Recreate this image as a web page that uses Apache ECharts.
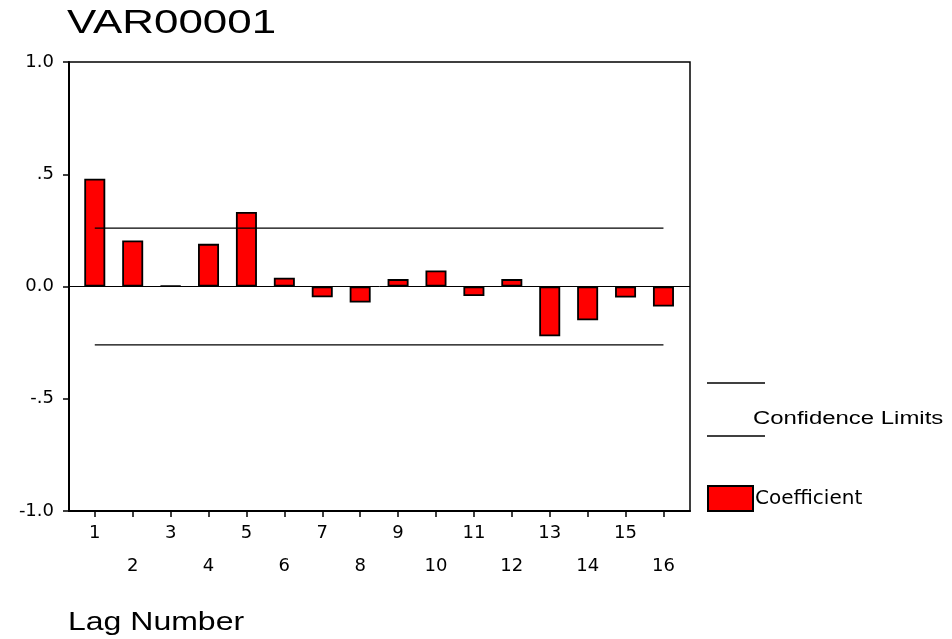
<!DOCTYPE html>
<html>
<head>
<meta charset="utf-8">
<script src="https://cdn.jsdelivr.net/npm/echarts@6/dist/echarts.min.js"></script>
<style>html,body{margin:0;padding:0;background:#fff;}#c{width:952px;height:639px;}</style>
</head>
<body>
<div id="c"></div>
<script>
// ---- data ----
const chartTitle = 'VAR00001';
const xAxisTitle = 'Lag Number';
const lags = [1, 2, 3, 4, 5, 6, 7, 8, 9, 10, 11, 12, 13, 14, 15, 16];
const coefficient = [0.48, 0.205, 0.003, 0.19, 0.332, 0.039, -0.048, -0.071, 0.033, 0.071, -0.042, 0.033, -0.222, -0.150, -0.049, -0.089];
const confUpper = 0.26;
const confLower = -0.26;
const yTickValues = [-1, -0.5, 0, 0.5, 1];
const yTickLabels = ['-1.0', '-.5', '0.0', '.5', '1.0'];

const chart = echarts.init(document.getElementById('c'), null, {renderer: 'canvas'});
const firstLag = lags[0], lastLag = lags[lags.length - 1];
const labelFont = '"DejaVu Sans", sans-serif';

const option = {
  animation: false,
  backgroundColor: '#fff',
  grid: {left: 69, right: 262, top: 62, bottom: 128, show: true, borderColor: '#000', borderWidth: 1.5, backgroundColor: 'transparent'},
  xAxis: {
    type: 'value', min: 0.32, max: 16.7,
    axisLine: {show: true, onZero: false, lineStyle: {color: '#000', width: 2}},
    axisTick: {show: true, customValues: lags, length: 6, lineStyle: {color: '#000', width: 1.5}},
    axisLabel: {
      customValues: lags, margin: 6, color: '#000', fontFamily: labelFont, fontSize: 18, lineHeight: 33,
      formatter: v => (Math.round(v) % 2 === 0 ? '\n' : '') + Math.round(v)
    },
    splitLine: {show: false}
  },
  yAxis: {
    type: 'value', min: -1, max: 1, interval: 0.5,
    axisLine: {show: true, onZero: false, lineStyle: {color: '#000', width: 2}},
    axisTick: {show: true, length: 6, lineStyle: {color: '#000', width: 1.5}},
    axisLabel: {
      margin: 15, color: '#000', fontFamily: labelFont, fontSize: 18, padding: [6, 0, 0, 0],
      formatter: v => { const i = yTickValues.findIndex(t => Math.abs(t - v) < 1e-9); return i >= 0 ? yTickLabels[i] : ''; }
    },
    splitLine: {show: false}
  },
  legend: {
    data: ['Coefficient'], left: 707, top: 485, padding: 0, icon: 'rect',
    itemWidth: 45, itemHeight: 25, selectedMode: false,
    textStyle: {color: '#000', fontFamily: labelFont, fontSize: 20, padding: [0, 0, 0, -3]}
  },
  series: [
    {
      name: 'Coefficient', type: 'bar', barWidth: 21,
      data: lags.map((l, i) => [l, coefficient[i]]),
      itemStyle: {color: '#ff0000', borderColor: '#000', borderWidth: 1.8},
      markLine: {
        silent: true, symbol: ['none', 'none'], label: {show: false},
        lineStyle: {color: '#000', width: 1, type: 'solid'},
        data: [{yAxis: 0}]
      }
    },
    {
      name: 'Confidence Limits', type: 'line', showSymbol: false, symbol: 'none',
      data: [[firstLag, confUpper], [lastLag, confUpper]],
      lineStyle: {color: '#000', width: 1.2}
    },
    {
      name: 'Confidence Limits ', type: 'line', showSymbol: false, symbol: 'none',
      data: [[firstLag, confLower], [lastLag, confLower]],
      lineStyle: {color: '#000', width: 1.2}
    }
  ],
  graphic: [
    {type: 'text', x: 67, y: 23.5, scaleX: 1.33,
     style: {text: chartTitle, font: 'normal 33px "Liberation Sans", Arial, sans-serif', fill: '#000', textVerticalAlign: 'middle'}},
    {type: 'text', x: 68, y: 623, scaleX: 1.28,
     style: {text: xAxisTitle, font: 'normal 25px "Liberation Sans", Arial, sans-serif', fill: '#000', textVerticalAlign: 'middle'}},
    {type: 'line', shape: {x1: 707, y1: 383, x2: 765, y2: 383}, style: {stroke: '#000', lineWidth: 1.5}},
    {type: 'line', shape: {x1: 707, y1: 436, x2: 765, y2: 436}, style: {stroke: '#000', lineWidth: 1.5}},
    {type: 'text', x: 753, y: 419.5, scaleX: 1.33,
     style: {text: 'Confidence Limits', font: 'normal 18px "Liberation Sans", Arial, sans-serif', fill: '#000', textVerticalAlign: 'middle'}}
  ]
};
chart.setOption(option);
</script>
</body>
</html>
